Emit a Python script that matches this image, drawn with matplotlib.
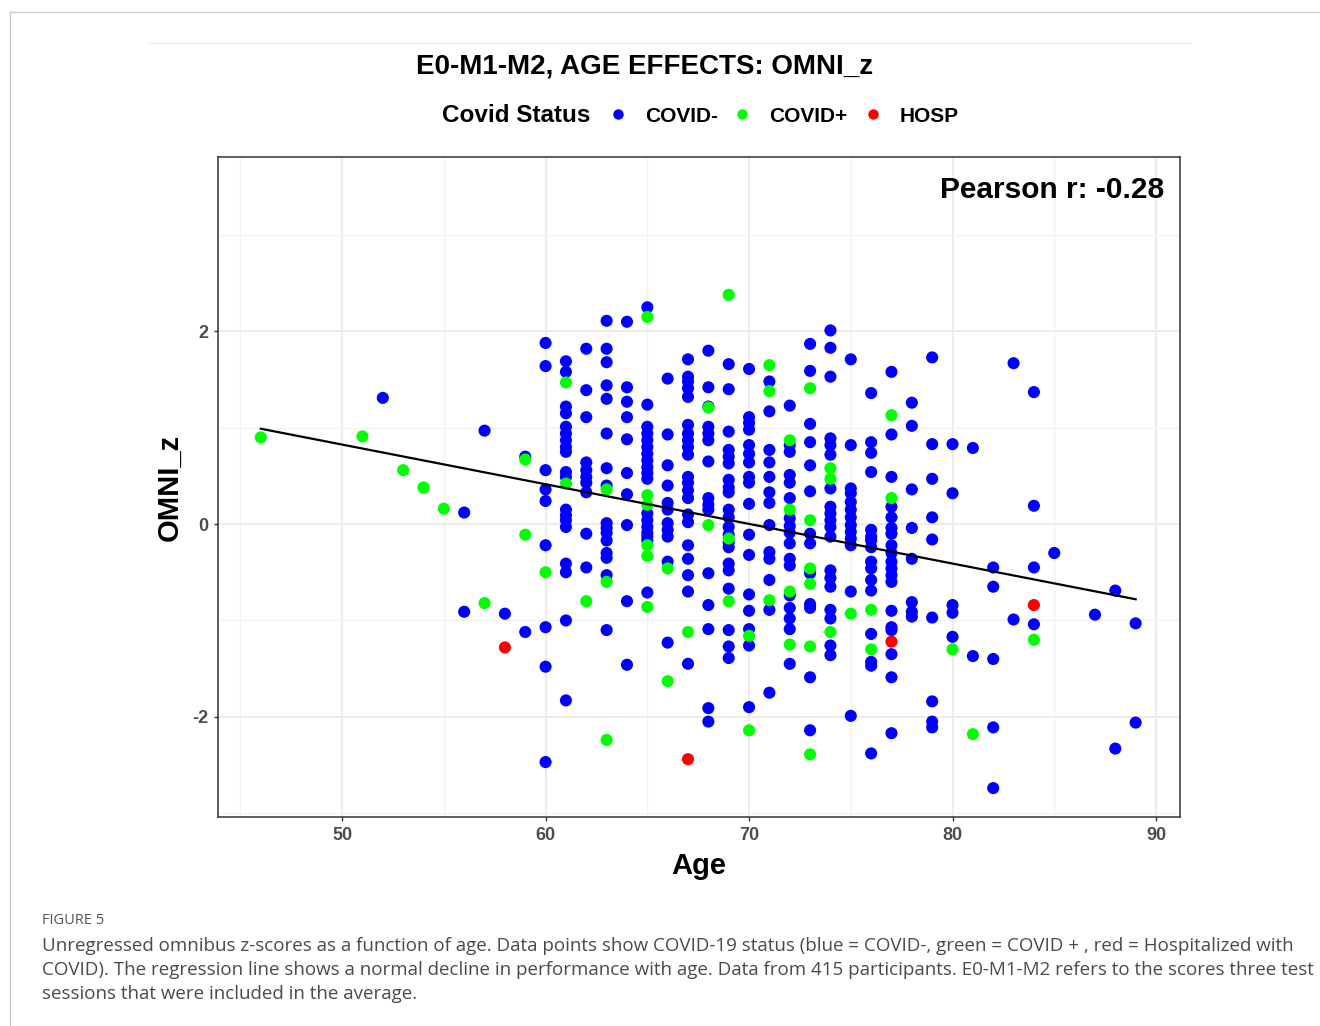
import numpy as np
import matplotlib.pyplot as plt
from matplotlib.lines import Line2D

# OMNI_z scores, grouped by age for each covid status
covid_neg = {
    52: [1.31], 56: [0.12, -0.91], 57: [0.97], 58: [-0.93], 59: [0.70, -1.12],
    60: [1.88, 1.64, 0.56, 0.36, 0.24, -0.22, -1.07, -1.48, -2.47],
    61: [1.69, 1.58, 1.22, 1.15, 1.01, 0.94, 0.87, 0.80, 0.75, 0.54, 0.49, 0.15,
         0.09, 0.04, -0.03, -0.41, -0.50, -1.00, -1.83],
    62: [1.82, 1.39, 1.11, 0.64, 0.56, 0.49, 0.43, 0.33, -0.10, -0.45],
    63: [2.11, 1.82, 1.68, 1.44, 1.30, 0.94, 0.58, 0.40, 0.01, -0.04, -0.09, -0.17,
         -0.30, -0.35, -0.53, -1.10],
    64: [2.10, 1.42, 1.27, 1.11, 0.88, 0.53, 0.31, -0.01, -0.80, -1.46],
    65: [2.25, 1.24, 1.01, 0.94, 0.87, 0.80, 0.73, 0.66, 0.59, 0.53, 0.47, 0.11,
         0.04, -0.03, -0.09, -0.13, -0.17, -0.71],
    66: [1.51, 0.93, 0.61, 0.40, 0.22, 0.15, 0.01, -0.06, -0.13, -0.39, -1.23],
    67: [1.71, 1.53, 1.48, 1.41, 1.32, 1.03, 0.94, 0.87, 0.80, 0.72, 0.49, 0.43,
         0.35, 0.27, 0.10, 0.02, -0.22, -0.36, -0.53, -0.70, -1.45],
    68: [1.80, 1.42, 1.22, 1.01, 0.94, 0.87, 0.65, 0.27, 0.20, 0.15, -0.51, -0.84,
         -1.09, -1.91, -2.05],
    69: [1.66, 1.40, 0.96, 0.77, 0.70, 0.63, 0.46, 0.38, 0.33, 0.15, 0.07, -0.03,
         -0.11, -0.19, -0.24, -0.41, -0.48, -0.67, -1.10, -1.27, -1.39],
    70: [1.61, 1.11, 1.05, 0.98, 0.82, 0.73, 0.64, 0.49, 0.43, 0.21, -0.11, -0.32,
         -0.73, -0.90, -1.09, -1.26, -1.90],
    71: [1.48, 1.17, 0.77, 0.64, 0.49, 0.33, 0.22, -0.01, -0.29, -0.36, -0.58,
         -0.89, -1.75],
    72: [1.23, 0.82, 0.75, 0.51, 0.43, 0.27, 0.06, -0.02, -0.09, -0.20, -0.36,
         -0.43, -0.74, -0.87, -0.98, -1.09, -1.45],
    73: [1.87, 1.59, 1.04, 0.85, 0.61, 0.34, -0.10, -0.20, -0.51, -0.83, -0.87,
         -1.59, -2.14],
    74: [2.01, 1.83, 1.53, 0.89, 0.82, 0.72, 0.37, 0.18, 0.11, 0.04, -0.03, -0.13,
         -0.48, -0.56, -0.65, -0.89, -0.98, -1.26, -1.36],
    75: [1.71, 0.82, 0.37, 0.32, 0.23, 0.15, 0.07, -0.01, -0.08, -0.15, -0.22,
         -0.70, -1.99],
    76: [1.36, 0.85, 0.74, 0.54, -0.06, -0.13, -0.17, -0.24, -0.39, -0.46, -0.58,
         -0.69, -1.14, -1.43, -1.47, -2.38],
    77: [1.58, 0.93, 0.49, 0.18, 0.07, -0.04, -0.10, -0.22, -0.30, -0.39, -0.46,
         -0.53, -0.60, -0.90, -1.07, -1.10, -1.35, -1.59, -2.17],
    78: [1.26, 1.02, 0.36, -0.04, -0.36, -0.81, -0.91, -0.96],
    79: [1.73, 0.83, 0.47, 0.07, -0.16, -0.97, -1.84, -2.05, -2.11],
    80: [0.83, 0.32, -0.84, -0.92, -1.17],
    81: [0.79, -1.37],
    82: [-0.45, -0.65, -1.40, -2.11, -2.74],
    83: [1.67, -0.99],
    84: [1.37, 0.19, -0.45, -1.04],
    85: [-0.30], 87: [-0.94], 88: [-0.69, -2.33], 89: [-1.03, -2.06],
}
covid_pos = {
    46: [0.90], 51: [0.91], 53: [0.56], 54: [0.38], 55: [0.16], 57: [-0.82],
    59: [0.67, -0.11], 60: [-0.50], 61: [1.47, 0.42], 62: [-0.80],
    63: [0.36, -0.60, -2.24], 65: [2.15, 0.30, 0.20, -0.22, -0.33, -0.86],
    66: [-0.46, -1.63], 67: [-1.12], 68: [1.21, -0.01], 69: [2.38, -0.15, -0.80],
    70: [-1.16, -2.14], 71: [1.65, 1.38, -0.79], 72: [0.87, 0.15, -0.70, -1.25],
    73: [1.41, 0.04, -0.46, -0.62, -1.27, -2.39], 74: [0.58, 0.47, -1.12],
    75: [-0.93], 76: [-0.89, -1.30], 77: [1.13, 0.27], 80: [-1.30], 81: [-2.18],
    84: [-1.20],
}
hosp = {58: [-1.28], 67: [-2.44], 77: [-1.22], 84: [-0.84]}

groups = ["COVID-", "COVID+", "HOSP"]
group_data = [covid_neg, covid_pos, hosp]
group_colors = ["#0000FF", "#00FF00", "#FF0000"]

# regression line end points as drawn
fit_age = [46, 89]
fit_z = [0.99, -0.78]
pearson_r = -0.28


def expand(d):
    ages, zs = [], []
    for age, vals in d.items():
        ages += [age] * len(vals)
        zs += vals
    return np.array(ages), np.array(zs)


W, H = 1320, 1026
plt.rcParams['font.family'] = ['Liberation Sans', 'DejaVu Sans']
plt.rcParams['axes.unicode_minus'] = False
fig = plt.figure(figsize=(W / 100, H / 100), dpi=100)

ax = fig.add_axes([218 / W, 1 - 817 / H, (1180 - 218) / W, (817 - 157) / H])
ax.set_xlim(43.9, 91.18)
ax.set_ylim(-3.04, 3.81)
ax.set_xticks([50, 60, 70, 80, 90])
ax.set_xticks([45, 55, 65, 75, 85], minor=True)
ax.set_yticks([-2, 0, 2])
ax.set_yticks([-3, -1, 1, 3], minor=True)
ax.grid(True, which='major', color='#EBEBEB', lw=1.3)
ax.grid(True, which='minor', color='#F2F2F2', lw=1.0)
ax.set_axisbelow(True)
ax.tick_params(which='major', length=3, width=1, color='#333333',
               labelsize=13, labelcolor='#4D4D4D', pad=4)
ax.tick_params(which='minor', length=0)
for lab in ax.get_xticklabels() + ax.get_yticklabels():
    lab.set_fontweight('bold')
for s in ax.spines.values():
    s.set_color('#333333')
    s.set_linewidth(1.1)

for d, c in zip(group_data, group_colors):
    a, z = expand(d)
    ax.scatter(a, z, s=76, color=c, edgecolors='none', zorder=3)

ax.plot(fit_age, fit_z, color='black', lw=1.6, zorder=4)

ax.text(0.984, 0.95, f"Pearson r: {pearson_r:.2f}", transform=ax.transAxes,
        ha='right', va='center', fontsize=21.5, fontweight='bold')

ax.set_xlabel("Age", fontsize=21, fontweight='bold', labelpad=6)
ax.set_ylabel("OMNI_z", fontsize=21, fontweight='bold', labelpad=6)

fig.text(645 / W, 1 - 66 / H, "E0-M1-M2, AGE EFFECTS: OMNI_z", ha='center',
         va='center', fontsize=20, fontweight='bold')

# legend row
ly = 1 - 116 / H
fig.text(442 / W, ly, "Covid Status", ha='left', va='center', fontsize=17.5,
         fontweight='bold')
for name, c, mx in zip(groups, group_colors, [618, 742, 873]):
    fig.add_artist(Line2D([mx / W], [ly + 0.002], marker='o', ms=7.5, color=c,
                          mec='none', transform=fig.transFigure))
    fig.text((mx + 27) / W, ly, name, ha='left', va='center', fontsize=15,
             fontweight='bold')

# page frame and thin rule
fig.add_artist(Line2D([10 / W, 1], [1 - 12 / H, 1 - 12 / H], color='#CCCCCC',
                      lw=1, transform=fig.transFigure))
fig.add_artist(Line2D([10 / W, 10 / W], [0, 1 - 12 / H], color='#CCCCCC',
                      lw=1, transform=fig.transFigure))
fig.add_artist(Line2D([148 / W, 1190 / W], [1 - 43 / H, 1 - 43 / H],
                      color='#EEEEEE', lw=1, transform=fig.transFigure))

# caption
cap = ['Open Sans', 'DejaVu Sans']
fig.text(42 / W, 1 - 920 / H, "FIGURE 5", ha='left', va='center', fontsize=10.5,
         color='#555555', family=cap)
lines = [
    "Unregressed omnibus z-scores as a function of age. Data points show COVID-19 status "
    "(blue = COVID-, green = COVID + , red = Hospitalized with",
    "COVID). The regression line shows a normal decline in performance with age. "
    "Data from 415 participants. E0-M1-M2 refers to the scores three test",
    "sessions that were included in the average.",
]
for i, t in enumerate(lines):
    fig.text(42 / W, 1 - (946 + 24 * i) / H, t, ha='left', va='center',
             fontsize=13.5, color='#4A4A4A', family=cap)

fig.savefig("out.png", dpi=100)
